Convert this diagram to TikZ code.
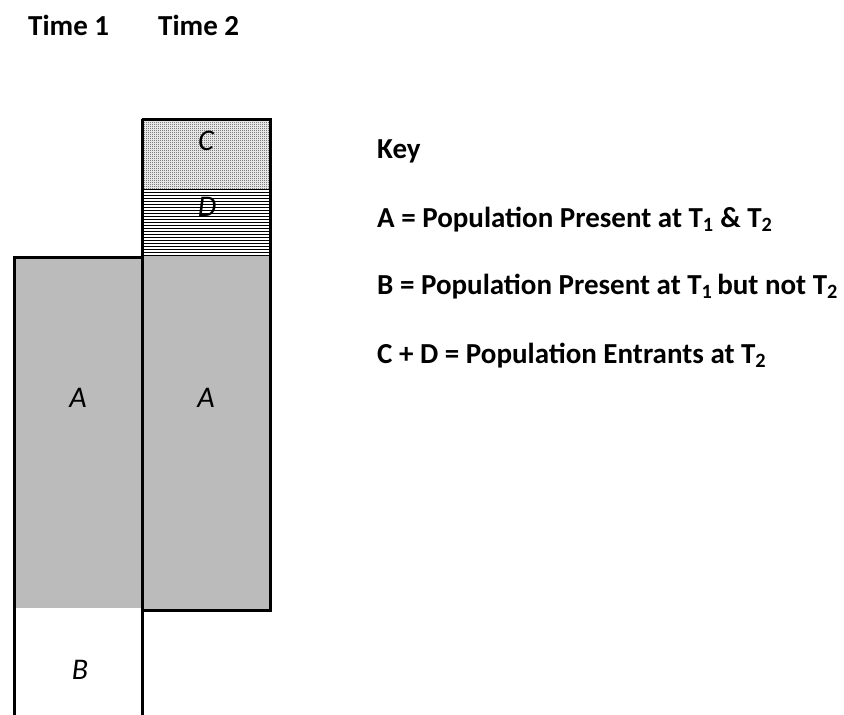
\documentclass[tikz,border=0pt]{standalone}
\usepackage{fontspec}
\setmainfont{Carlito}
\usetikzlibrary{patterns}

% fine checker fill for the C block
\pgfdeclarepatternformonly{checks}{\pgfpointorigin}{\pgfpoint{2pt}{2pt}}{\pgfpoint{2pt}{2pt}}{
    \pgfpathrectangle{\pgfpointorigin}{\pgfpoint{1pt}{1pt}}
    \pgfpathrectangle{\pgfpoint{1pt}{1pt}}{\pgfpoint{1pt}{1pt}}
    \pgfusepath{fill}}

\definecolor{popgray}{HTML}{BBBBBB}

\tikzset{
    bar/.style={line width=3pt},
    letter/.style={font=\fontsize{30}{34}\selectfont\itshape, inner sep=0pt},
    head/.style={font=\fontsize{29}{33}\selectfont\bfseries, anchor=base west, inner sep=0pt},
    keyline/.style={font=\fontsize{29}{33}\selectfont\bfseries, anchor=base west, inner sep=0pt}
}

\begin{document}
\begin{tikzpicture}[x=1pt, y=-1pt]

    \useasboundingbox (0,0) rectangle (844,715);

    % column headings
    \node[head] (t1) at (28,35) {Time 1};
    \node[head] (t2) at (158,35) {Time 2};

    % the two populations
    \fill[popgray] (14,257) rectangle (142,608);
    \fill[popgray] (142,256) rectangle (270,610);
    \foreach \y in {189,192,...,255}
        \fill (142,\y) rectangle (270,\y+1.3);
    \fill[white] (142,119) rectangle (270,188);
    \fill[pattern=checks, pattern color=gray!45!black] (142,119) rectangle (270,188);

    \draw[bar] (142,257) -- (14,257) -- (14,715);
    \draw[bar] (142,119) -- (142,715);
    \draw[bar] (142,119) -- (270,119) -- (270,610) -- (142,610);

    \node[letter] (a1) at (78,398) {A};
    \node[letter] (a2) at (206,398) {A};
    \node[letter] (b1) at (80,670) {B};
    \node[letter] (c2) at (206,141) {C};
    \node[letter] (d2) at (207,207) {D};

    % key
    \node[keyline] (key)  at (377,158) {Key};
    \node[keyline] (keya) at (377,227) {A = Population Present at T\textsubscript{1} \& T\textsubscript{2}};
    \node[keyline] (keyb) at (377,294) {B = Population Present at T\textsubscript{1}\,but not T\textsubscript{2}};
    \node[keyline] (keyc) at (377,363) {C + D = Population Entrants at T\textsubscript{2}};

\end{tikzpicture}
\end{document}
